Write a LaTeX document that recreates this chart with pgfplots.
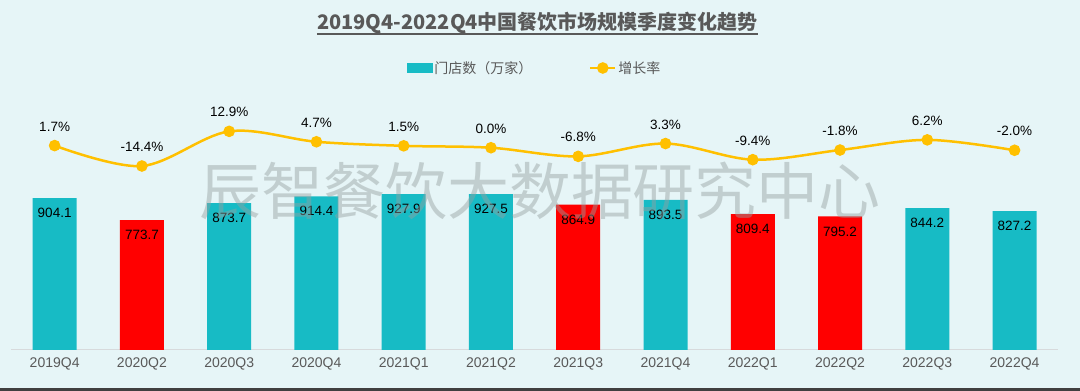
\documentclass[border=0pt]{standalone}
\usepackage{pgfplots}
\pgfplotsset{compat=1.18}
\usepackage{fontspec}
\setmainfont{Liberation Sans}
\newfontfamily\cjk{Noto Sans CJK SC}
\definecolor{bg}{RGB}{230,245,247}
\definecolor{barteal}{RGB}{23,187,197}
\definecolor{barred}{RGB}{255,0,0}
\definecolor{lineyel}{RGB}{255,192,0}
\definecolor{txtgray}{RGB}{89,89,89}
\definecolor{linegray}{RGB}{215,218,220}
\definecolor{wmgray}{RGB}{150,160,160}
\definecolor{band}{RGB}{64,64,64}
\begin{document}
\begin{tikzpicture}
\fill[bg] (0,0) rectangle (1080pt,391pt);
\begin{axis}[
  at={(11pt,41pt)}, anchor=south west,
  scale only axis, width=1047.2pt, height=250pt,
  xmin=-0.5, xmax=11.5, ymin=0, ymax=1488,
  clip=false,
  axis x line=bottom, axis y line=none,
  x axis line style={-, draw=linegray, line width=1pt},
  xtick={0,...,11},
  xticklabels={2019Q4,2020Q2,2020Q3,2020Q4,2021Q1,2021Q2,2021Q3,2021Q4,2022Q1,2022Q2,2022Q3,2022Q4},
  major tick length=0pt,
  xticklabel style={font=\fontsize{14}{16}\selectfont, text=txtgray, inner sep=0pt, yshift=-8pt},
  ytick=\empty,
  /pgf/number format/.cd, fixed, fixed zerofill, precision=1, assume math mode=true,
  /pgfplots/.cd,
  every node near coord/.append style={anchor=north, inner sep=0pt, yshift=-10pt, font=\fontsize{13.5}{15}\selectfont, text=black},
]
\addplot[ybar, bar width=44pt, bar shift=0pt, fill=barteal, draw=none, nodes near coords]
  coordinates {(0,904.1)(2,873.7)(3,914.4)(4,927.9)(5,927.5)(7,893.5)(10,844.2)(11,827.2)};
\addplot[ybar, bar width=44pt, bar shift=0pt, fill=barred, draw=none, nodes near coords]
  coordinates {(1,773.7)(6,864.9)(8,809.4)(9,795.2)};
\end{axis}
\begin{axis}[
  at={(11pt,41pt)}, anchor=south west,
  scale only axis, width=1047.2pt, height=250pt,
  xmin=-0.5, xmax=11.5, ymin=-159.3, ymax=37.6,
  clip=false, hide axis,
  /pgf/number format/.cd, fixed, fixed zerofill, precision=1, assume math mode=true,
  /pgfplots/.cd,
  legend style={at={(0.5,1)}, anchor=center, yshift=32pt, draw=none, fill=none,
    font=\cjk\fontsize{14}{16}\selectfont, text=txtgray,
    legend columns=2, /tikz/every even column/.append style={column sep=55pt}},
  every node near coord/.append style={anchor=south, inner sep=0pt, yshift=13pt, font=\fontsize{13.5}{15}\selectfont, text=black},
]
\addlegendimage{legend image code/.code={\fill[barteal] (0pt,-4.5pt) rectangle (25pt,4.5pt);}}
\addlegendentry{门店数（万家）}
\addplot[lineyel, line width=2.5pt, smooth, tension=0.55, mark=*, mark size=4.5pt,
  mark options={fill=lineyel, draw=lineyel},
  nodes near coords={\pgfmathprintnumber{\pgfplotspointmeta}\%},
  legend image code/.code={\draw[lineyel, line width=2pt] (0pt,0pt) -- (25pt,0pt); \fill[lineyel] (12.5pt,0pt) circle (4.5pt);}]
  coordinates {(0,1.7)(1,-14.4)(2,12.9)(3,4.7)(4,1.5)(5,0.0)(6,-6.8)(7,3.3)(8,-9.4)(9,-1.8)(10,6.2)(11,-2.0)};
\addlegendentry{增长率}
\end{axis}
\node[inner sep=0pt, anchor=base, text=txtgray, font=\cjk\bfseries\fontsize{20}{23}\selectfont] (t) at (537.5pt,361pt) {2019Q4-2022Q4中国餐饮市场规模季度变化趋势};
\draw[txtgray, line width=1.2pt] ([yshift=-4pt]t.base west) -- ([yshift=-4pt]t.base east);
\node[text=wmgray, opacity=0.45, inner sep=0pt, font=\cjk\fontsize{62}{62}\selectfont] at (540pt,200pt) {辰智餐饮大数据研究中心};
\fill[band] (0,0) rectangle (1080pt,2.5pt);
\pgfresetboundingbox
\path[use as bounding box] (0,0) rectangle (1080pt,391pt);
\end{tikzpicture}
\end{document}
